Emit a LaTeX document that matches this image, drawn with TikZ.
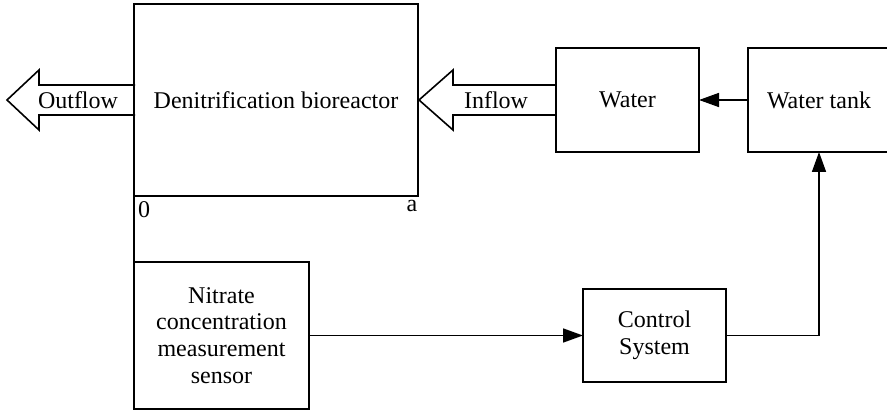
\documentclass[tikz,border=0pt]{standalone}
\usepackage{fontspec}
\setmainfont{Liberation Serif}
\usetikzlibrary{arrows.meta}

\begin{document}
\begin{tikzpicture}[x=0.5pt, y=-0.5pt,
  box/.style={draw, thick, inner sep=0pt, outer sep=0pt, align=center,
    font=\fontsize{12}{13.4}\selectfont},
  lbl/.style={inner sep=0pt, font=\fontsize{12}{13.4}\selectfont},
  arr/.style={thick, -{Triangle[length=10pt, width=7pt]}},
  fatarrow/.style={thick, line join=miter}]
\useasboundingbox (0,0) rectangle (887,410);
% upper row:
\node[box, minimum width=142pt, minimum height=96pt] (bio) at (276,100) {Denitrification bioreactor};
\node[box, minimum width=71.5pt, minimum height=52pt] (water) at (627.5,100) {Water};
\node[box, minimum width=71pt, minimum height=52pt] (tank) at (819,100) {Water tank};
% lower row:
\node[box, minimum width=87.5pt, minimum height=73.5pt] (sensor) at (221.5,335.5) {Nitrate\\concentration\\measurement\\sensor};
\node[box, minimum width=71.5pt, minimum height=46.5pt] (ctrl) at (654.5,335.5) {Control\\System};
% fat arrows:
\draw[fatarrow] (135,85) -- (39,85) -- (39,70) -- (7,100) -- (39,130) -- (39,115) -- (135,115);
\node[lbl] (outflow) at (78,100) {Outflow};
\draw[fatarrow] (556,85) -- (453,85) -- (453,70) -- (419,100) -- (453,130) -- (453,115) -- (556,115);
\node[lbl] (inflow) at (496,100) {Inflow};
% bioreactor ends:
\node[lbl] (zero) at (144,210) {0};
\node[lbl] (aend) at (412,206) {a};
% connectors:
\draw[thick] (bio.south west) -- (sensor.north west);
\draw[arr] (tank.west) -- (water.east);
\draw[arr] (sensor.east) -- (ctrl.west);
\draw[arr] (ctrl.east) -| (tank.south);
\end{tikzpicture}
\end{document}
